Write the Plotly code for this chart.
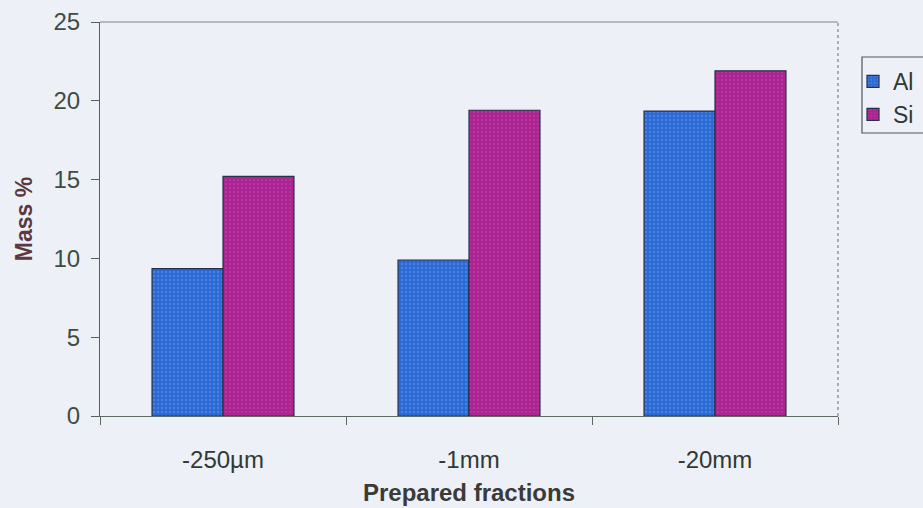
import plotly.graph_objects as go

# Mass fractions of Al and Si in each prepared size fraction
fractions = ["-250µm", "-1mm", "-20mm"]
al_mass = [9.35, 9.9, 19.35]
si_mass = [15.2, 19.4, 21.9]

bg = "#edf0f7"
tick_color = "#3e4c44"

fig = go.Figure()
fig.add_trace(go.Bar(
    x=fractions, y=al_mass, name="Al",
    marker=dict(color="#2a6ad4", line=dict(color="#26304a", width=1.2),
                pattern=dict(shape=".", fgcolor="#6f8fe8", fgopacity=0.6, size=4, solidity=0.25)),
))
fig.add_trace(go.Bar(
    x=fractions, y=si_mass, name="Si",
    marker=dict(color="#ac2492", line=dict(color="#26304a", width=1.2),
                pattern=dict(shape=".", fgcolor="#c455b0", fgopacity=0.5, size=4, solidity=0.2)),
))

fig.update_layout(
    width=923, height=508,
    margin=dict(l=100, r=85, t=22, b=92, autoexpand=False),
    paper_bgcolor=bg, plot_bgcolor=bg,
    barmode="group", bargap=0.423, bargroupgap=0,
    font=dict(family="Liberation Sans, Arial, sans-serif", color=tick_color),
    showlegend=True,
    legend=dict(
        xref="container", yref="container",
        x=853 / 923, y=1 - 60 / 508, xanchor="left", yanchor="top",
        bgcolor="rgba(0,0,0,0)", borderwidth=0,
        font=dict(size=23, color="#2f3a33"),
        tracegroupgap=4, itemwidth=30,
    ),
    xaxis=dict(
        showline=True, linecolor="#5d6a63", linewidth=1.2,
        ticks="outside", ticklen=8, tickcolor="#5d6a63",
        tickson="boundaries",
        tickfont=dict(size=24, color="#2f3a33"),
        ticklabelstandoff=22,
        title=dict(text="<b>Prepared fractions</b>", font=dict(size=24, color="#3a3a3a"), standoff=12),
        showgrid=False,
    ),
    yaxis=dict(
        range=[0, 25], dtick=5,
        showline=True, linecolor="#4f6358", linewidth=1.2,
        ticks="outside", ticklen=8, tickcolor="#4f6358",
        tickfont=dict(size=24, color=tick_color),
        ticklabelstandoff=6,
        title=dict(text="<b>Mass %</b>", font=dict(size=23, color="#5a3a3e"), standoff=14),
        showgrid=False, zeroline=False,
    ),
)

# Plot-area border on the top and right sides
fig.add_shape(type="line", xref="paper", yref="paper", x0=0, x1=1, y0=1, y1=1,
              line=dict(color="#7a8580", width=1.2))
fig.add_shape(type="line", xref="paper", yref="paper", x0=1, x1=1, y0=0, y1=1,
              line=dict(color="#7a8580", width=1.2, dash="dot"))

# Legend frame, running off the right edge of the page
fig.add_shape(type="rect", xref="paper", yref="paper",
              x0=(862 - 100) / 738, x1=(940 - 100) / 738,
              y0=(416 - 133) / 394, y1=(416 - 57) / 394,
              line=dict(color="#555555", width=1.2), layer="below")

fig.write_html("out.html")
